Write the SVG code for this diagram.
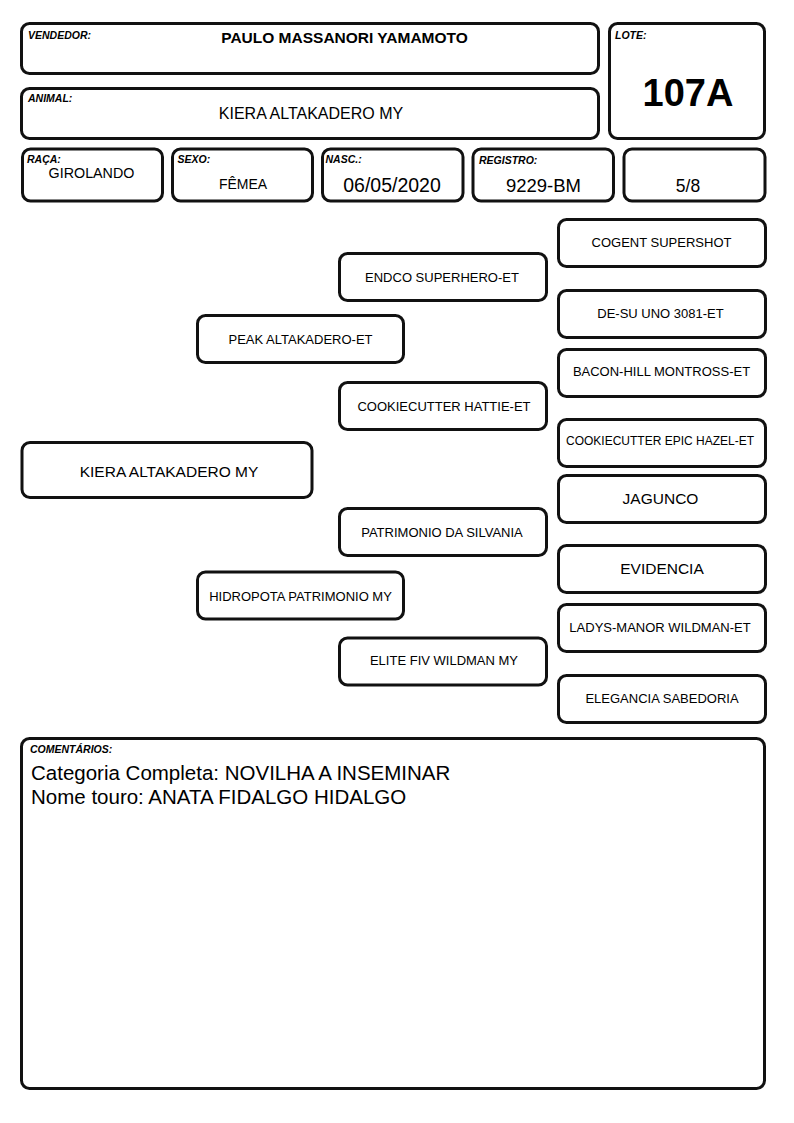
<svg xmlns="http://www.w3.org/2000/svg" width="794" height="1123" viewBox="0 0 794 1123">
<style>
  .box{fill:#fff;stroke:#111;stroke-width:3}
  .lbl{font-family:"Liberation Sans",Arial,sans-serif;font-size:10.5px;font-weight:bold;font-style:italic;fill:#000}
  .t{font-family:"Liberation Sans",Arial,sans-serif;fill:#000;text-anchor:middle}
  .p13{font-size:13px}
  .p12{font-size:12px}
  .p15{font-size:15.5px}
  .c{font-family:"Liberation Sans",Arial,sans-serif;font-size:20.5px;fill:#000}
</style>
<rect width="794" height="1123" fill="#fff"/>
<g id="vendedor">
  <rect class="box" x="21.5" y="23.5" width="577" height="50" rx="8"/>
  <text class="lbl" x="28" y="39">VENDEDOR:</text>
  <text class="t" x="344.5" y="43" font-size="15.5" font-weight="bold">PAULO MASSANORI YAMAMOTO</text>
</g>
<g id="animal">
  <rect class="box" x="21.5" y="88.5" width="577" height="50" rx="8"/>
  <text class="lbl" x="28" y="102">ANIMAL:</text>
  <text class="t" x="311" y="118.5" font-size="16">KIERA ALTAKADERO MY</text>
</g>
<g id="lote">
  <rect class="box" x="609.5" y="23.5" width="155" height="115" rx="8"/>
  <text class="lbl" x="615" y="39">LOTE:</text>
  <text class="t" x="688" y="106" font-size="38" font-weight="bold">107A</text>
</g>
<g id="raca">
  <rect class="box" x="22.5" y="149" width="140" height="52" rx="8"/>
  <text class="lbl" x="27" y="163">RAÇA:</text>
  <text class="t" x="91.5" y="177.5" font-size="14.3">GIROLANDO</text>
</g>
<g id="sexo">
  <rect class="box" x="172.5" y="149" width="140" height="52" rx="8"/>
  <text class="lbl" x="177.5" y="163">SEXO:</text>
  <text class="t" x="243" y="189" font-size="14">FÊMEA</text>
</g>
<g id="nasc">
  <rect class="box" x="322.5" y="149" width="140.5" height="52" rx="8"/>
  <text class="lbl" x="325.5" y="163">NASC.:</text>
  <text class="t" x="392" y="192" font-size="19.5">06/05/2020</text>
</g>
<g id="registro">
  <rect class="box" x="473" y="149" width="140.5" height="52" rx="8"/>
  <text class="lbl" x="479" y="164">REGISTRO:</text>
  <text class="t" x="543.5" y="192" font-size="18.5">9229-BM</text>
</g>
<g id="sangue">
  <rect class="box" x="624" y="149" width="141" height="52" rx="8"/>
  <text class="t" x="688" y="192" font-size="17.5">5/8</text>
</g>
<g id="connectors"></g>
<g id="n-kiera">
  <rect class="box" x="22" y="442.5" width="290" height="55" rx="8"/>
  <text class="t" x="169" y="476.5" font-size="15.5">KIERA ALTAKADERO MY</text>
</g>
<g id="n-peak">
  <rect class="box" x="197.5" y="315.5" width="206" height="47" rx="8"/>
  <text class="t p13" x="300.5" y="344">PEAK ALTAKADERO-ET</text>
</g>
<g id="n-hidropota">
  <rect class="box" x="197.5" y="572" width="206" height="47" rx="8"/>
  <text class="t p13" x="300.5" y="600.5">HIDROPOTA PATRIMONIO MY</text>
</g>
<g id="n-endco">
  <rect class="box" x="339.5" y="253.5" width="207" height="47" rx="8"/>
  <text class="t p13" x="442" y="281.5">ENDCO SUPERHERO-ET</text>
</g>
<g id="n-hattie">
  <rect class="box" x="339.5" y="382.5" width="207" height="47" rx="8"/>
  <text class="t p13" x="444" y="410.5">COOKIECUTTER HATTIE-ET</text>
</g>
<g id="n-patrimonio">
  <rect class="box" x="339.5" y="508.5" width="207" height="47" rx="8"/>
  <text class="t p13" x="442" y="536.5">PATRIMONIO DA SILVANIA</text>
</g>
<g id="n-elite">
  <rect class="box" x="339.5" y="638" width="207" height="47" rx="8"/>
  <text class="t p13" x="444" y="665">ELITE FIV WILDMAN MY</text>
</g>
<g id="n-cogent">
  <rect class="box" x="558.5" y="219.5" width="207" height="47" rx="8"/>
  <text class="t p13" x="661.5" y="246.5">COGENT SUPERSHOT</text>
</g>
<g id="n-desu">
  <rect class="box" x="558.5" y="290.5" width="207" height="47" rx="8"/>
  <text class="t p13" x="660.5" y="317.5">DE-SU UNO 3081-ET</text>
</g>
<g id="n-bacon">
  <rect class="box" x="558.5" y="349.5" width="207" height="47" rx="8"/>
  <text class="t p13" x="661.5" y="376">BACON-HILL MONTROSS-ET</text>
</g>
<g id="n-epic">
  <rect class="box" x="558.5" y="419.5" width="207" height="47" rx="8"/>
  <text class="t p12" x="660" y="445">COOKIECUTTER EPIC HAZEL-ET</text>
</g>
<g id="n-jagunco">
  <rect class="box" x="558.5" y="475.5" width="207" height="47" rx="8"/>
  <text class="t p15" x="660.5" y="504">JAGUNCO</text>
</g>
<g id="n-evidencia">
  <rect class="box" x="558.5" y="545.5" width="207" height="47" rx="8"/>
  <text class="t p15" x="662" y="574">EVIDENCIA</text>
</g>
<g id="n-ladys">
  <rect class="box" x="558.5" y="604.5" width="207" height="47" rx="8"/>
  <text class="t p13" x="660" y="632">LADYS-MANOR WILDMAN-ET</text>
</g>
<g id="n-elegancia">
  <rect class="box" x="558.5" y="675.5" width="207" height="47" rx="8"/>
  <text class="t p13" x="662" y="702.5">ELEGANCIA SABEDORIA</text>
</g>
<g id="comentarios">
  <rect class="box" x="21.5" y="738.5" width="743" height="350" rx="8"/>
  <text class="lbl" x="30" y="753">COMENTÁRIOS:</text>
  <text class="c" x="31" y="780">Categoria Completa: NOVILHA A INSEMINAR</text>
  <text class="c" x="31" y="804">Nome touro: ANATA FIDALGO HIDALGO</text>
</g>
</svg>
